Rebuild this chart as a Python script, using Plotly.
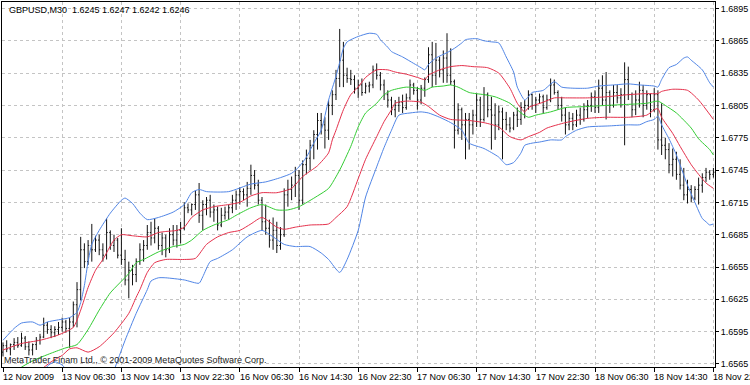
import plotly.graph_objects as go

# ---------------- data ----------------
bar_index = list(range(193))

opens = [1.6576,1.6582,1.6579,1.6583,1.6585,1.6582,1.6589,1.6581,1.6578,1.6583,
1.6587,1.6590,1.6601,1.6597,1.6594,1.6597,1.6599,1.6604,1.6598,1.6604,
1.6620,1.6634,1.6671,1.6660,1.6675,1.6671,1.6680,1.6671,1.6666,1.6687,
1.6675,1.6680,1.6666,1.6662,1.6643,1.6652,1.6648,1.6660,1.6671,1.6675,
1.6687,1.6682,1.6691,1.6675,1.6682,1.6671,1.6685,1.6680,1.6689,1.6691,
1.6710,1.6708,1.6713,1.6722,1.6703,1.6713,1.6717,1.6706,1.6708,1.6694,
1.6703,1.6706,1.6710,1.6717,1.6722,1.6725,1.6722,1.6728,1.6740,1.6731,
1.6717,1.6697,1.6691,1.6680,1.6689,1.6675,1.6685,1.6722,1.6727,1.6731,
1.6740,1.6717,1.6750,1.6756,1.6768,1.6778,1.6791,1.6787,1.6782,1.6805,
1.6815,1.6830,1.6847,1.6833,1.6830,1.6829,1.6821,1.6824,1.6817,1.6823,
1.6824,1.6838,1.6833,1.6824,1.6815,1.6810,1.6801,1.6805,1.6808,1.6803,
1.6812,1.6824,1.6819,1.6810,1.6821,1.6829,1.6852,1.6833,1.6847,1.6838,
1.6849,1.6833,1.6827,1.6782,1.6801,1.6787,1.6792,1.6787,1.6796,1.6810,
1.6792,1.6815,1.6801,1.6796,1.6787,1.6799,1.6792,1.6787,1.6784,1.6796,
1.6792,1.6803,1.6805,1.6815,1.6805,1.6810,1.6813,1.6803,1.6810,1.6824,
1.6817,1.6805,1.6796,1.6787,1.6793,1.6787,1.6796,1.6792,1.6801,1.6805,
1.6813,1.6803,1.6821,1.6810,1.6817,1.6805,1.6817,1.6812,1.6815,1.6829,
1.6815,1.6801,1.6810,1.6819,1.6805,1.6815,1.6801,1.6815,1.6773,1.6768,
1.6764,1.6750,1.6755,1.6741,1.6731,1.6722,1.6727,1.6719,1.6727,1.6731,
1.6738,1.6743,1.6741]

highs = [1.6585,1.6587,1.6584,1.6589,1.6590,1.6594,1.6591,1.6586,1.6584,1.6590,
1.6593,1.6608,1.6604,1.6601,1.6600,1.6604,1.6608,1.6606,1.6608,1.6623,
1.6641,1.6683,1.6677,1.6680,1.6695,1.6684,1.6685,1.6677,1.6700,1.6689,
1.6685,1.6682,1.6691,1.6671,1.6660,1.6657,1.6663,1.6677,1.6680,1.6694,
1.6697,1.6700,1.6693,1.6687,1.6685,1.6691,1.6694,1.6694,1.6697,1.6715,
1.6714,1.6714,1.6726,1.6733,1.6717,1.6720,1.6722,1.6713,1.6711,1.6710,
1.6711,1.6713,1.6722,1.6726,1.6729,1.6728,1.6734,1.6750,1.6745,1.6736,
1.6720,1.6713,1.6699,1.6701,1.6697,1.6692,1.6728,1.6736,1.6739,1.6748,
1.6745,1.6754,1.6764,1.6773,1.6782,1.6798,1.6798,1.6794,1.6810,1.6819,
1.6838,1.6876,1.6864,1.6840,1.6838,1.6833,1.6829,1.6830,1.6826,1.6827,
1.6842,1.6844,1.6836,1.6829,1.6819,1.6813,1.6810,1.6813,1.6815,1.6816,
1.6829,1.6826,1.6822,1.6824,1.6831,1.6859,1.6864,1.6863,1.6850,1.6856,
1.6872,1.6858,1.6829,1.6807,1.6803,1.6798,1.6798,1.6801,1.6816,1.6813,
1.6822,1.6817,1.6813,1.6807,1.6805,1.6803,1.6799,1.6794,1.6799,1.6803,
1.6808,1.6810,1.6819,1.6816,1.6813,1.6816,1.6815,1.6815,1.6830,1.6829,
1.6819,1.6813,1.6803,1.6799,1.6798,1.6801,1.6803,1.6807,1.6810,1.6817,
1.6819,1.6829,1.6833,1.6836,1.6819,1.6824,1.6824,1.6821,1.6845,1.6841,
1.6817,1.6819,1.6827,1.6824,1.6819,1.6816,1.6821,1.6819,1.6807,1.6775,
1.6770,1.6765,1.6762,1.6755,1.6747,1.6736,1.6731,1.6730,1.6738,1.6742,
1.6747,1.6745,1.6747]

lows = [1.6572,1.6576,1.6573,1.6578,1.6580,1.6581,1.6578,1.6573,1.6573,1.6578,
1.6583,1.6589,1.6593,1.6589,1.6590,1.6592,1.6595,1.6594,1.6580,1.6599,
1.6599,1.6624,1.6654,1.6657,1.6660,1.6669,1.6666,1.6660,1.6662,1.6671,
1.6669,1.6663,1.6657,1.6638,1.6626,1.6638,1.6641,1.6657,1.6660,1.6671,
1.6675,1.6677,1.6671,1.6666,1.6664,1.6668,1.6675,1.6673,1.6677,1.6689,
1.6705,1.6703,1.6708,1.6696,1.6689,1.6703,1.6701,1.6697,1.6689,1.6692,
1.6699,1.6699,1.6705,1.6708,1.6713,1.6717,1.6711,1.6722,1.6727,1.6713,
1.6689,1.6685,1.6673,1.6671,1.6668,1.6671,1.6683,1.6711,1.6717,1.6720,
1.6708,1.6713,1.6741,1.6745,1.6755,1.6764,1.6778,1.6765,1.6773,1.6796,
1.6810,1.6822,1.6822,1.6826,1.6824,1.6816,1.6812,1.6814,1.6816,1.6817,
1.6821,1.6829,1.6819,1.6810,1.6803,1.6796,1.6794,1.6799,1.6798,1.6801,
1.6810,1.6815,1.6801,1.6806,1.6813,1.6826,1.6822,1.6824,1.6831,1.6826,
1.6826,1.6824,1.6765,1.6778,1.6773,1.6755,1.6764,1.6778,1.6785,1.6785,
1.6790,1.6794,1.6764,1.6773,1.6782,1.6755,1.6782,1.6780,1.6782,1.6785,
1.6787,1.6793,1.6801,1.6801,1.6798,1.6807,1.6798,1.6801,1.6808,1.6815,
1.6801,1.6790,1.6778,1.6782,1.6782,1.6785,1.6787,1.6790,1.6793,1.6799,
1.6798,1.6798,1.6805,1.6792,1.6798,1.6803,1.6807,1.6803,1.6768,1.6810,
1.6794,1.6796,1.6803,1.6794,1.6801,1.6794,1.6799,1.6764,1.6759,1.6755,
1.6742,1.6739,1.6736,1.6727,1.6717,1.6714,1.6715,1.6717,1.6713,1.6724,
1.6734,1.6736,1.6738]

closes = [1.6582,1.6579,1.6583,1.6585,1.6582,1.6589,1.6581,1.6578,1.6583,1.6587,
1.6590,1.6601,1.6597,1.6594,1.6597,1.6599,1.6604,1.6598,1.6604,1.6620,
1.6634,1.6671,1.6660,1.6675,1.6671,1.6680,1.6671,1.6666,1.6687,1.6675,
1.6680,1.6666,1.6662,1.6643,1.6652,1.6648,1.6660,1.6671,1.6675,1.6687,
1.6682,1.6691,1.6675,1.6682,1.6671,1.6685,1.6680,1.6689,1.6691,1.6710,
1.6708,1.6713,1.6722,1.6703,1.6713,1.6717,1.6706,1.6708,1.6694,1.6703,
1.6706,1.6710,1.6717,1.6722,1.6725,1.6722,1.6728,1.6740,1.6731,1.6717,
1.6697,1.6691,1.6680,1.6689,1.6675,1.6685,1.6722,1.6727,1.6731,1.6740,
1.6717,1.6750,1.6756,1.6768,1.6778,1.6791,1.6787,1.6782,1.6805,1.6815,
1.6830,1.6847,1.6833,1.6830,1.6829,1.6821,1.6824,1.6817,1.6823,1.6824,
1.6838,1.6833,1.6824,1.6815,1.6810,1.6801,1.6805,1.6808,1.6803,1.6812,
1.6824,1.6819,1.6810,1.6821,1.6829,1.6852,1.6833,1.6847,1.6838,1.6849,
1.6833,1.6827,1.6782,1.6801,1.6787,1.6792,1.6787,1.6796,1.6810,1.6792,
1.6815,1.6801,1.6796,1.6787,1.6799,1.6792,1.6787,1.6784,1.6796,1.6792,
1.6803,1.6805,1.6815,1.6805,1.6810,1.6813,1.6803,1.6810,1.6824,1.6817,
1.6805,1.6796,1.6787,1.6793,1.6787,1.6796,1.6792,1.6801,1.6805,1.6813,
1.6803,1.6821,1.6810,1.6817,1.6805,1.6817,1.6812,1.6815,1.6829,1.6815,
1.6801,1.6810,1.6819,1.6805,1.6815,1.6801,1.6815,1.6773,1.6768,1.6764,
1.6750,1.6755,1.6741,1.6731,1.6722,1.6727,1.6719,1.6727,1.6731,1.6738,
1.6743,1.6741,1.6743]

# Bands (bar index, price)
blue_up_x = [0,3,5,8,10,12,15,18,20,21,22,23,24,26,29,32,33,35,37,39,42,46,49,51,53,55,61,67,71,75,78,80,82,84,86,88,90,91,92,93,94,96,99,101,102,104,105,108,111,113,114,115,117,120,122,124,125,128,130,132,134,136,138,139,141,142,143,146,149,151,154,158,161,165,169,172,176,177,178,180,182,184,185,186,189,191,192]
blue_up_y = [1.6587,1.6598,1.6603,1.6604,1.6601,1.6604,1.6606,1.6608,1.6613,1.6622,1.6638,1.6660,1.6676,1.6689,1.6705,1.6717,1.6719,1.6714,1.6705,1.6699,1.6701,1.6706,1.6713,1.6724,1.6727,1.6725,1.6725,1.6732,1.6734,1.6738,1.6742,1.6748,1.6757,1.6770,1.6782,1.6810,1.6832,1.6845,1.6858,1.6864,1.6866,1.6869,1.6872,1.6871,1.6866,1.6859,1.6855,1.6850,1.6844,1.6840,1.6838,1.6843,1.6849,1.6854,1.6858,1.6863,1.6866,1.6867,1.6865,1.6864,1.6863,1.6850,1.6836,1.6822,1.6810,1.6813,1.6817,1.6819,1.6827,1.6822,1.6821,1.6821,1.6823,1.6824,1.6825,1.6824,1.6823,1.6822,1.6829,1.6840,1.6843,1.6849,1.6850,1.6847,1.6838,1.6826,1.6822]

red_up_x = [0,5,10,15,19,21,23,25,27,30,32,35,39,42,44,47,49,51,54,57,61,64,67,70,74,78,81,85,88,89,90,92,94,96,98,101,104,106,109,112,114,115,118,121,124,127,131,134,137,139,141,142,146,149,152,158,163,169,174,177,178,181,185,188,192]
red_up_y = [1.6578,1.6584,1.6587,1.6592,1.6599,1.6615,1.6636,1.6652,1.6662,1.6680,1.6685,1.6684,1.6683,1.6687,1.6688,1.6689,1.6692,1.6701,1.6708,1.6711,1.6713,1.6715,1.6721,1.6724,1.6724,1.6728,1.6739,1.6749,1.6761,1.6773,1.6782,1.6801,1.6815,1.6822,1.6831,1.6838,1.6838,1.6836,1.6834,1.6831,1.6829,1.6833,1.6838,1.6841,1.6842,1.6841,1.6840,1.6835,1.6821,1.6807,1.6799,1.6803,1.6808,1.6812,1.6812,1.6812,1.6813,1.6815,1.6816,1.6816,1.6818,1.6820,1.6819,1.6810,1.6792]

green_x = [0,4,8,13,17,20,23,26,29,34,36,38,42,46,49,51,54,57,61,63,67,70,74,77,80,85,88,91,94,96,98,101,103,105,109,112,114,116,119,121,123,126,130,133,137,140,142,144,148,152,158,163,169,174,177,179,182,186,188,191,192]
green_y = [1.6552,1.6560,1.6568,1.6575,1.6580,1.6583,1.6597,1.6615,1.6631,1.6649,1.6659,1.6662,1.6669,1.6674,1.6676,1.6680,1.6689,1.6694,1.6699,1.6703,1.6710,1.6713,1.6708,1.6708,1.6711,1.6721,1.6728,1.6745,1.6767,1.6785,1.6798,1.6807,1.6815,1.6819,1.6822,1.6821,1.6819,1.6822,1.6823,1.6824,1.6822,1.6817,1.6815,1.6813,1.6807,1.6798,1.6794,1.6796,1.6799,1.6803,1.6804,1.6805,1.6806,1.6807,1.6809,1.6805,1.6798,1.6784,1.6774,1.6764,1.6759]

red_lo_x = [0,7,10,13,16,18,20,23,26,30,34,36,37,39,41,44,49,52,55,58,61,64,67,70,74,76,79,83,88,90,93,96,98,101,103,105,106,109,113,115,118,121,126,130,134,137,140,142,145,147,152,158,163,169,174,176,177,178,181,183,186,188,190,192]
red_lo_y = [1.6540,1.6550,1.6559,1.6567,1.6573,1.6579,1.6580,1.6576,1.6581,1.6594,1.6612,1.6627,1.6634,1.6650,1.6659,1.6662,1.6662,1.6663,1.6676,1.6683,1.6687,1.6689,1.6695,1.6701,1.6692,1.6690,1.6692,1.6694,1.6695,1.6701,1.6711,1.6737,1.6755,1.6776,1.6790,1.6801,1.6807,1.6809,1.6808,1.6804,1.6796,1.6792,1.6791,1.6789,1.6785,1.6776,1.6773,1.6776,1.6780,1.6784,1.6789,1.6793,1.6794,1.6794,1.6796,1.6801,1.6802,1.6794,1.6779,1.6767,1.6750,1.6741,1.6733,1.6728]

blue_lo_x = [0,10,12,14,16,18,20,24,28,30,33,36,39,40,42,44,49,53,54,56,58,62,66,70,73,76,79,83,86,88,91,93,96,98,101,103,105,107,110,113,115,118,121,124,126,130,134,136,138,140,141,143,145,148,151,152,155,158,164,169,172,174,176,177,178,180,182,185,187,189,190,191,192]
blue_lo_y = [1.6504,1.6545,1.6563,1.6567,1.6564,1.6555,1.6541,1.6522,1.6541,1.6559,1.6587,1.6612,1.6634,1.6642,1.6645,1.6645,1.6643,1.6640,1.6646,1.6660,1.6663,1.6671,1.6683,1.6689,1.6683,1.6676,1.6674,1.6674,1.6668,1.6662,1.6650,1.6662,1.6689,1.6720,1.6748,1.6766,1.6782,1.6796,1.6798,1.6799,1.6798,1.6794,1.6789,1.6782,1.6770,1.6765,1.6757,1.6750,1.6752,1.6761,1.6768,1.6770,1.6771,1.6773,1.6773,1.6776,1.6782,1.6785,1.6786,1.6787,1.6787,1.6790,1.6792,1.6795,1.6787,1.6774,1.6759,1.6731,1.6715,1.6700,1.6697,1.6694,1.6695]

time_tick_bars = [0,16,32,48,64,80,96,112,128,144,160,176,192]
time_tick_labels = ["12 Nov 2009","13 Nov 06:30","13 Nov 14:30","13 Nov 22:30",
                    "16 Nov 06:30","16 Nov 14:30","16 Nov 22:30","17 Nov 06:30",
                    "17 Nov 14:30","17 Nov 22:30","18 Nov 06:30","18 Nov 14:30",
                    "18 Nov 22:30"]
price_ticks = [1.6565,1.6595,1.6625,1.6655,1.6685,1.6715,1.6745,1.6775,1.6805,1.6835,1.6865,1.6895]
price_tick_labels = ["1.6565","1.6595","1.6625","1.6655","1.6685","1.6715","1.6745","1.6775","1.6805","1.6835","1.6865","1.6895"]

header_text = "GBPUSD,M30\u00a0 1.6245 1.6247 1.6242 1.6246"
copyright_text = "MetaTrader Finam Ltd., \u00a9 2001-2009 MetaQuotes Software Corp."

# ---------------- figure ----------------
FONT = "Liberation Sans, Arial, sans-serif"
BLUE = "#5085e6"
RED = "#e5314c"
GREEN = "#33cc33"

fig = go.Figure()
fig.add_trace(go.Ohlc(
    x=bar_index, open=opens, high=highs, low=lows, close=closes,
    increasing=dict(line=dict(color="#111111", width=1)),
    decreasing=dict(line=dict(color="#111111", width=1)),
    tickwidth=0.3, hoverinfo="skip"))

for xs, ys, col in [(blue_up_x, blue_up_y, BLUE), (red_up_x, red_up_y, RED),
                    (green_x, green_y, GREEN), (red_lo_x, red_lo_y, RED),
                    (blue_lo_x, blue_lo_y, BLUE)]:
    fig.add_trace(go.Scatter(x=xs, y=ys, mode="lines",
                             line=dict(color=col, width=1, shape="spline", smoothing=0.6),
                             hoverinfo="skip"))

annotations = []
for b, t in zip(time_tick_bars, time_tick_labels):
    annotations.append(dict(x=b, xref="x", y=0, yref="paper", yanchor="top",
                            xanchor="left", yshift=-3, xshift=-2, text=t, showarrow=False,
                            font=dict(family=FONT, size=9, color="black")))
annotations.append(dict(x=0.007, xref="paper", y=0.978, yref="paper", xanchor="left",
                        yanchor="middle", text=header_text, showarrow=False,
                        font=dict(family=FONT, size=9, color="black")))
annotations.append(dict(x=0.0, xref="paper", y=0.018, yref="paper", xanchor="left",
                        yanchor="middle", text=copyright_text, showarrow=False,
                        font=dict(family=FONT, size=9, color="#222222")))

fig.update_layout(
    width=750, height=385,
    margin=dict(l=2, r=35, t=2, b=18),
    paper_bgcolor="white", plot_bgcolor="white",
    showlegend=False,
    font=dict(family=FONT, size=9, color="black"),
    annotations=annotations,
    xaxis=dict(range=[-0.27, 192.43], tickvals=time_tick_bars, showticklabels=False,
               ticks="outside", ticklen=4, tickcolor="black",
               showgrid=True, gridcolor="#c4c4c4", griddash="3px,3px", gridwidth=1,
               showline=True, linecolor="black", linewidth=1, mirror=True,
               zeroline=False, rangeslider=dict(visible=False), fixedrange=True),
    yaxis=dict(side="right", range=[1.65622, 1.6901], tickvals=price_ticks,
               ticktext=price_tick_labels, ticks="outside", ticklen=3, tickcolor="black",
               showgrid=True, gridcolor="#c4c4c4", griddash="3px,3px", gridwidth=1,
               showline=True, linecolor="black", linewidth=1, mirror=True,
               zeroline=False, fixedrange=True,
               tickfont=dict(family=FONT, size=9, color="black")),
)

fig.write_html("out.html")
